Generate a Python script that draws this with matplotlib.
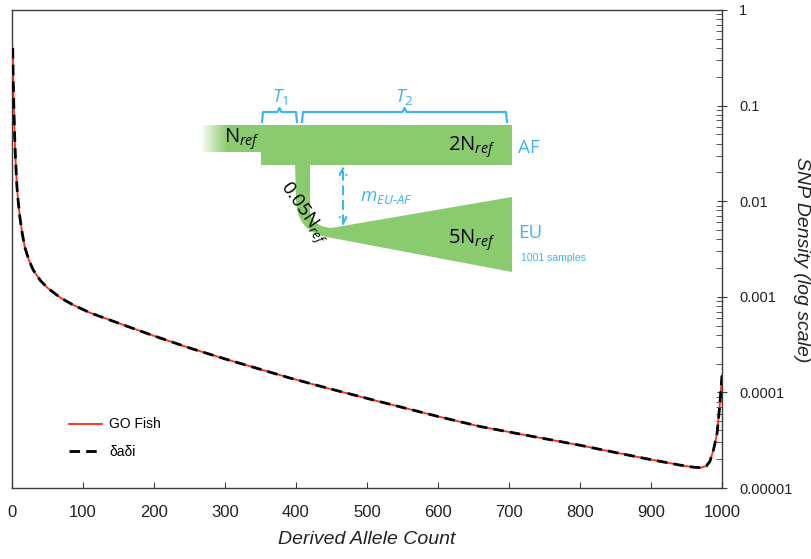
import numpy as np
import matplotlib
matplotlib.use("Agg")
from matplotlib import pyplot as plt
from matplotlib.path import Path
from matplotlib.patches import PathPatch, Rectangle
from matplotlib.colors import to_rgb
from matplotlib.ticker import LogLocator, NullFormatter, FixedLocator

plt.rcParams["font.family"] = ["Liberation Sans", "DejaVu Sans"]
plt.rcParams["mathtext.fontset"] = "custom"
plt.rcParams["mathtext.rm"] = "Open Sans"
plt.rcParams["mathtext.it"] = "Open Sans:italic"

# SFS (derived allele count vs SNP density)
allele_count = [1, 2, 3, 4, 5, 7, 9, 11, 14, 18, 24, 30, 40, 50, 68, 85, 110,
                150, 200, 251, 300, 392, 450, 518, 600, 659, 730, 800, 850,
                894, 913, 940, 960, 970, 978, 983, 988, 993, 997, 1000]
go_fish_density = [0.40, 0.15, 0.075, 0.042, 0.027, 0.014, 0.0095, 0.0069,
                   0.0048, 0.0033, 0.0024, 0.0019, 0.00148, 0.00124, 0.00098,
                   0.00083, 0.00068, 0.00053, 0.00039, 0.00029, 0.000224,
                   0.000141, 0.000108, 8.0e-5, 5.6e-5, 4.4e-5, 3.5e-5, 2.8e-5,
                   2.35e-5, 2.02e-5, 1.9e-5, 1.74e-5, 1.65e-5, 1.63e-5, 1.7e-5,
                   1.9e-5, 2.5e-5, 3.7e-5, 7.5e-5, 1.5e-4]
dadi_density = list(go_fish_density)  # the two curves overlap

x_ticks = list(range(0, 1001, 100))
y_ticks = [1, 0.1, 0.01, 0.001, 0.0001, 0.00001]
y_tick_labels = ["1", "0.1", "0.01", "0.001", "0.0001", "0.00001"]

W, H = 812, 559
GREEN = "#8bcb6f"
BLUE = "#3fb4f3"
AXIS_COLOR = "#3c3c3c"

fig = plt.figure(figsize=(W / 100, H / 100), dpi=100)
ax = fig.add_axes([12 / W, 1 - 488 / H, 710 / W, 478 / H])

ax.plot(allele_count, go_fish_density, color="#ff2a12", lw=1.3,
        label="GO Fish", zorder=3)
ax.plot(allele_count, dadi_density, color="black", lw=2.0,
        ls=(0, (3.8, 2.2)), label="δaδi", zorder=4)

ax.set_yscale("log")
ax.set_xlim(0, 1000)
ax.set_ylim(1e-5, 1)
ax.yaxis.tick_right()
ax.yaxis.set_label_position("right")
ax.yaxis.set_major_locator(FixedLocator(y_ticks))
ax.set_yticklabels(y_tick_labels)
ax.yaxis.set_minor_locator(LogLocator(base=10, subs=np.arange(2, 10)))
ax.yaxis.set_minor_formatter(NullFormatter())
ax.set_xticks(x_ticks)
ax.set_xticklabels([str(t) for t in x_ticks])

for side in ax.spines.values():
    side.set_color(AXIS_COLOR)
    side.set_linewidth(1.0)
ax.tick_params(axis="y", which="major", direction="inout", length=7,
               color=AXIS_COLOR, labelsize=10.5, pad=9, labelcolor="#222222")
ax.tick_params(axis="y", which="minor", direction="in", length=4,
               color=AXIS_COLOR)
ax.tick_params(axis="x", which="major", direction="in", length=4,
               color=AXIS_COLOR, labelsize=12, pad=12, labelcolor="#222222")

ax.set_xlabel("Derived Allele Count", fontsize=14, style="italic",
              labelpad=8, color="#222222")
ax.set_ylabel("SNP Density (log scale)", fontsize=14, style="italic",
              rotation=270, color="#222222", va="center", ha="center")
ax.yaxis.set_label_coords((802 - 12) / 710, (488 - 260) / 478)

leg = ax.legend(loc="lower left", bbox_to_anchor=(0.08, 0.06),
                frameon=False, fontsize=10, handlelength=2.4,
                labelspacing=1.0, handletextpad=0.5, borderpad=0,
                borderaxespad=0)

# inset: demographic model, drawn in figure pixel coordinates
ov = fig.add_axes([0, 0, 1, 1], zorder=5)
ov.patch.set_alpha(0)

grad = np.zeros((1, 80, 4))
grad[..., :3] = to_rgb(GREEN)
grad[..., 3] = np.clip(np.linspace(0, 1, 80) * 2.3, 0, 1)
ov.imshow(grad, extent=(200, 262, 152, 125), aspect="auto",
          interpolation="bilinear")
ov.add_patch(Rectangle((261.5, 125), 250.5, 40, color=GREEN, lw=0))

verts = [(295, 164), (310, 164), (310, 211), (311, 226), (331, 228),
         (512, 197), (512, 272), (327, 237), (297, 232), (296, 200),
         (295, 164), (295, 164)]
codes = [Path.MOVETO, Path.LINETO, Path.LINETO, Path.CURVE3, Path.CURVE3,
         Path.LINETO, Path.LINETO, Path.LINETO, Path.CURVE3, Path.CURVE3,
         Path.LINETO, Path.CLOSEPOLY]
ov.add_patch(PathPatch(Path(verts, codes), color=GREEN, lw=0))

# time brackets
for x0, x1 in [(262, 297), (302, 507)]:
    xm = (x0 + x1) / 2
    ov.plot([x0, x0 + 1, xm - 2, xm, xm + 2, x1 - 1, x1],
            [122, 112, 112, 108, 112, 112, 122], color=BLUE, lw=1.6,
            solid_joinstyle="round")
ov.text(280, 97, r"$T_{\mathit{1}}$", color=BLUE, fontsize=13.5,
        ha="center", va="center")
ov.text(404, 97, r"$T_{\mathit{2}}$", color=BLUE, fontsize=13.5,
        ha="center", va="center")

ov.annotate("", xy=(343, 166), xytext=(343, 226),
            arrowprops=dict(arrowstyle="<->", color=BLUE, lw=1.5,
                            ls=(0, (4, 3)), shrinkA=0, shrinkB=0,
                            mutation_scale=12))
ov.text(360, 197, r"$m_{\mathit{EU\text{-}AF}}$", color=BLUE, fontsize=13.5,
        ha="left", va="center")

ov.text(224, 139, r"$\mathrm{N}_{\mathit{ref}}$", fontsize=14.5,
        ha="left", va="center")
ov.text(448, 147, r"$\mathrm{2N}_{\mathit{ref}}$", fontsize=14.5,
        ha="left", va="center")
ov.text(448, 240, r"$\mathrm{5N}_{\mathit{ref}}$", fontsize=14.5,
        ha="left", va="center")
ov.text(303, 213, r"$\mathrm{0.05N}_{\mathit{ref}}$", fontsize=13.5,
        rotation=-55, ha="center", va="center", rotation_mode="anchor")
ov.text(518, 148, "AF", color=BLUE, fontsize=13.5, ha="left", va="center",
        family="Open Sans")
ov.text(518, 233, "EU", color=BLUE, fontsize=13.5, ha="left", va="center",
        family="Open Sans")
ov.text(521, 258, "1001 samples", color=BLUE, fontsize=7.5, ha="left",
        va="center")

ov.set_xlim(0, W)
ov.set_ylim(H, 0)
ov.axis("off")

fig.savefig("out.png", dpi=100)
